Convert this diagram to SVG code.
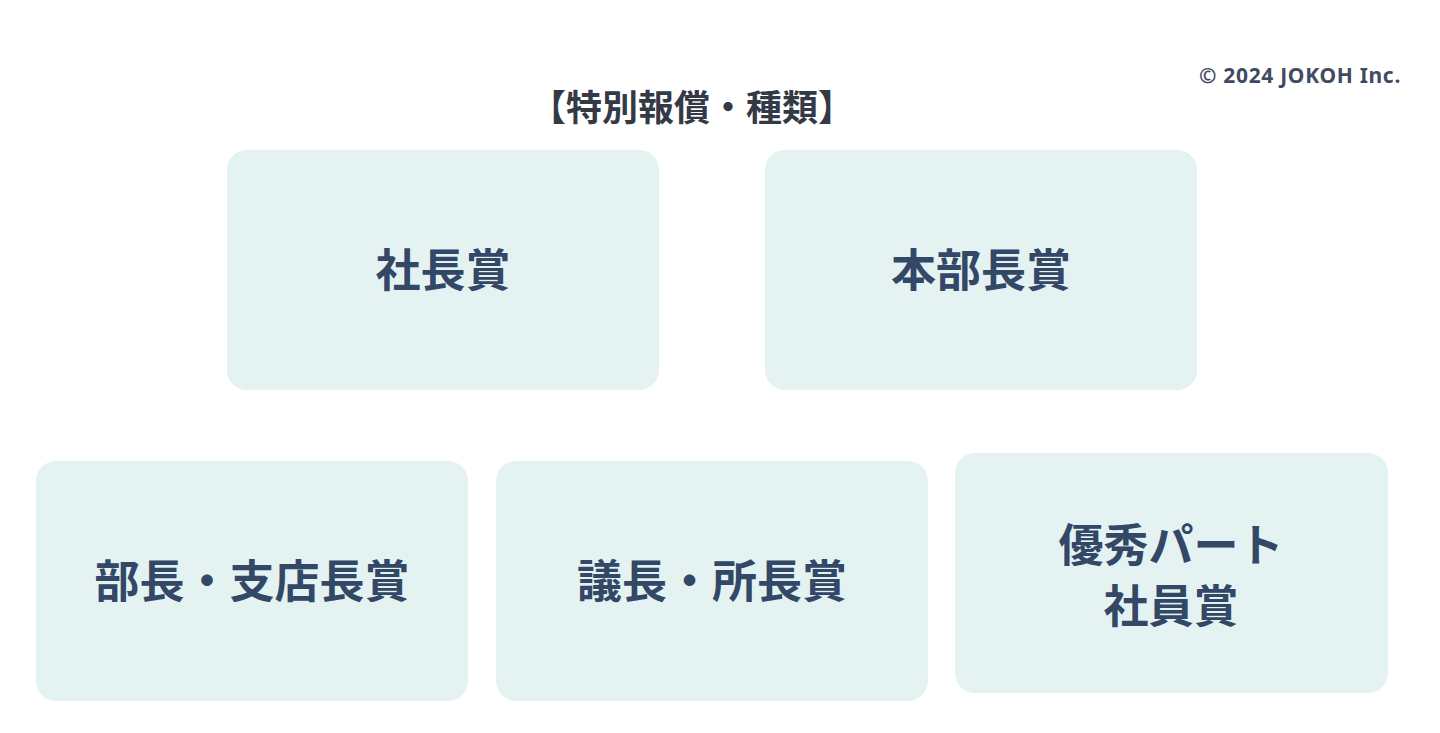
<svg xmlns="http://www.w3.org/2000/svg" width="1440" height="733" viewBox="0 0 1440 733">
<style>
.box{fill:#e4f3f2;}
.lbl{font-family:"Noto Sans CJK JP","Noto Sans",sans-serif;font-weight:700;font-size:45px;fill:#334766;text-anchor:middle;dominant-baseline:central;}
.title{font-family:"Noto Sans CJK JP","Noto Sans",sans-serif;font-weight:700;font-size:36px;fill:#333a45;text-anchor:middle;dominant-baseline:central;}
.copy{font-family:"Noto Sans","Open Sans",sans-serif;font-weight:700;font-size:21px;letter-spacing:0.7px;fill:#3f4b62;text-anchor:end;dominant-baseline:central;}
</style>
<rect width="1440" height="733" fill="#ffffff"/>
<text class="copy" x="1401" y="75">© 2024 JOKOH Inc.</text>
<text class="title" x="692" y="105">【特別報償・種類】</text>
<g id="node-shachou"><rect class="box" x="227" y="150" width="432" height="240" rx="20"/><text class="lbl" x="443" y="267">社長賞</text></g>
<g id="node-honbuchou"><rect class="box" x="765" y="150" width="432" height="240" rx="20"/><text class="lbl" x="981" y="267">本部長賞</text></g>
<g id="node-buchou"><rect class="box" x="36" y="461" width="432" height="240" rx="20"/><text class="lbl" x="252" y="578">部長・支店長賞</text></g>
<g id="node-gichou"><rect class="box" x="496" y="461" width="432" height="240" rx="20"/><text class="lbl" x="712" y="578">議長・所長賞</text></g>
<g id="node-part"><rect class="box" x="955" y="453" width="433" height="240" rx="20"/><text class="lbl" x="1171" y="542">優秀パート</text><text class="lbl" x="1171" y="603">社員賞</text></g>
<g id="connectors"></g>
</svg>
